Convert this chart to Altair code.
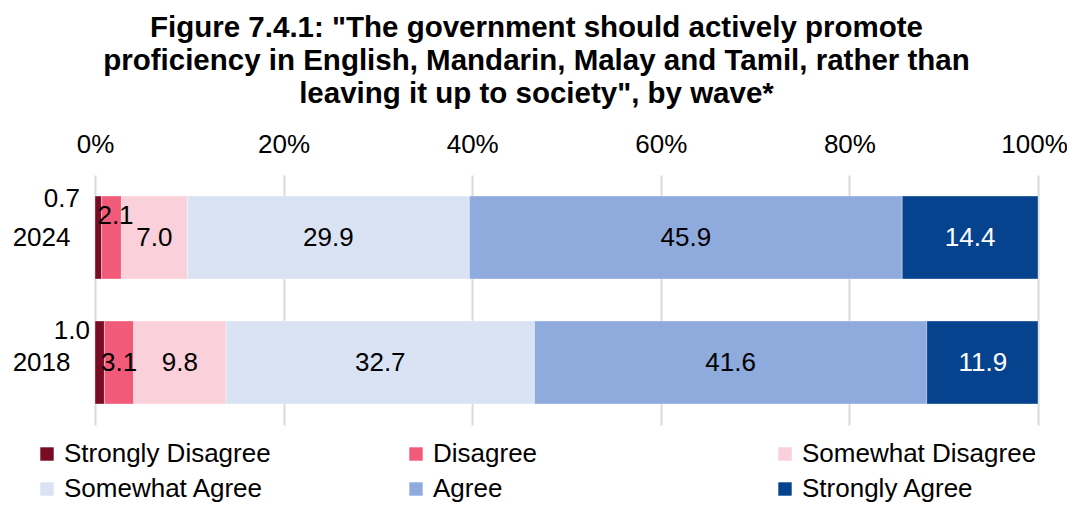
import altair as alt
import pandas as pd

categories = ["Strongly Disagree", "Disagree", "Somewhat Disagree",
              "Somewhat Agree", "Agree", "Strongly Agree"]
colors = ["#7A0B25", "#F25A79", "#FAD0DA", "#DAE3F3", "#8FAADC", "#06438F"]
years = ["2024", "2018"]
values_2024 = [0.7, 2.1, 7.0, 29.9, 45.9, 14.4]
values_2018 = [1.0, 3.1, 9.8, 32.7, 41.6, 11.9]
x_ticks = [0, 20, 40, 60, 80, 100]

rows = []
for year, vals in zip(years, [values_2024, values_2018]):
    for i, (cat, v) in enumerate(zip(categories, vals)):
        rows.append({"year": year, "category": cat, "order": i,
                     "value": v, "label": f"{v:.1f}"})
df = pd.DataFrame(rows)

FONT = "Liberation Sans"
FS = 26

base = alt.Chart(df).transform_stack(
    stack="value", groupby=["year"], as_=["x0", "x1"],
    sort=[alt.SortField("order", order="ascending")]
).transform_calculate(mid="(datum.x0 + datum.x1) / 2")

xscale = alt.Scale(domain=[0, 100], clamp=True, nice=False)
yscale = alt.Scale(domain=years, paddingInner=0.336, paddingOuter=0.168)

bars = base.mark_bar(stroke="white", strokeWidth=0.6, strokeOpacity=0.6).encode(
    x=alt.X("x0:Q", scale=xscale,
            axis=alt.Axis(orient="top", values=x_ticks, labelExpr="datum.value + '%'",
                          title=None, domain=False, ticks=False, grid=True,
                          gridColor="#D9D9D9", gridWidth=2, labelFontSize=FS,
                          labelFont=FONT, labelColor="black", labelPadding=18,
                          labelFlush=False,
                          labelOffset={"condition": {"test": "datum.value == 100", "value": -4},
                                       "value": 0})),
    x2="x1:Q",
    y=alt.Y("year:N", scale=yscale, sort=years,
            axis=alt.Axis(title=None, domain=False, ticks=False, labelFontSize=FS,
                          labelFont=FONT, labelColor="black", labelPadding=25)),
    color=alt.Color("category:N",
                    scale=alt.Scale(domain=categories, range=colors),
                    legend=alt.Legend(title=None, orient="none", legendX=-61, legendY=266,
                                      direction="horizontal",
                                      columns=3, gridAlign="all", columnPadding=104,
                                      rowPadding=9, symbolType="square", symbolSize=180,
                                      symbolStrokeWidth=0, labelFontSize=FS, labelFont=FONT,
                                      labelColor="black", labelOffset=4, labelLimit=400)),
    order=alt.Order("order:Q"),
)

main_text = base.transform_filter(
    "datum.category != 'Strongly Disagree' && !(datum.category == 'Disagree' && datum.year == '2024')"
).mark_text(fontSize=FS, font=FONT).encode(
    x=alt.X("mid:Q", scale=xscale),
    y=alt.Y("year:N", scale=yscale, sort=years),
    text="label:N",
    color=alt.condition("datum.category == 'Strongly Agree'",
                        alt.value("white"), alt.value("black")),
)

def special(cond, field, align, dx, dy):
    return base.transform_filter(cond).mark_text(
        fontSize=FS, font=FONT, color="black", align=align, dx=dx, dy=dy
    ).encode(
        x=alt.X(f"{field}:Q", scale=xscale),
        y=alt.Y("year:N", scale=yscale, sort=years),
        text="label:N",
    )

sd24 = special("datum.category == 'Strongly Disagree' && datum.year == '2024'", "x0", "right", -15, -38.5)
sd18 = special("datum.category == 'Strongly Disagree' && datum.year == '2018'", "x0", "right", -5, -31.5)
d24 = special("datum.category == 'Disagree' && datum.year == '2024'", "mid", "center", 4, -21.5)

chart = alt.layer(bars, main_text, sd24, sd18, d24).properties(
    width=943, height=250,
    autosize=alt.AutoSizeParams(type="none"),
    padding={"left": 87, "top": 167, "right": 29, "bottom": 78},
    title=alt.Title(
        text=['Figure 7.4.1: "The government should actively promote',
              'proficiency in English, Mandarin, Malay and Tamil, rather than',
              'leaving it up to society", by wave*'],
        fontSize=29.5, fontWeight="bold", font=FONT, color="black",
        anchor="middle", dx=-30, offset=22, lineHeight=33),
).configure_view(stroke=None)

chart.save("out.html", embed_options={"renderer": "svg", "actions": False})
